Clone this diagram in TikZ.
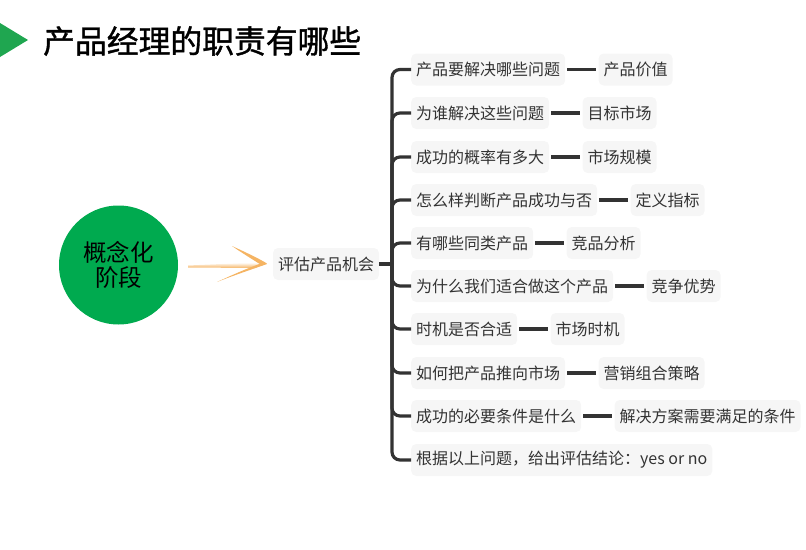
\documentclass[tikz,border=0pt]{standalone}
\usepackage{fontspec}
\newfontfamily\cjk{Noto Sans CJK SC}
\newfontfamily\cjktitle[FakeBold=1.2]{Noto Sans CJK SC}
\definecolor{cgreen}{HTML}{00AA4F}
\definecolor{tgreen}{HTML}{1FA650}
\definecolor{boxgray}{HTML}{F6F6F6}
\definecolor{ink}{HTML}{333333}
\definecolor{arrorange}{HTML}{F5B463}
\begin{document}
\begin{tikzpicture}[x=1pt,y=-1pt,
  tbox/.style={fill=boxgray,rounded corners=5pt,inner xsep=5pt,inner ysep=0pt,minimum height=32pt,text=ink,font=\cjk\fontsize{16}{18}\selectfont},
  lbox/.style={tbox,anchor=west},
  link/.style={draw=ink,line width=3.2pt},
  branch/.style={draw=ink,line width=3.2pt,rounded corners=8pt}]
\useasboundingbox (0,0) rectangle (806,549);
% title
\fill[tgreen] (0,23) -- (28,40) -- (0,57) -- cycle;
\node[anchor=west,inner sep=0pt,font=\cjktitle\fontsize{31.8}{34}\selectfont] (title) at (43,41) {产品经理的职责有哪些};
% circle
\node[circle,fill=cgreen,minimum size=119pt,inner sep=0pt,align=center,font=\cjk\fontsize{23.5}{25.5}\selectfont] (stage) at (118.5,265) {概念化\\阶段};
% arrow
\shade[left color=white,right color=arrorange,shading angle=0] (188,265.5) -- (255,262.5) -- (262,265) -- (255,268) -- (188,267.5) -- cycle;
\fill[arrorange] (232,246) .. controls (245,252) and (258,258) .. (267,263.5) -- (262,265.5) .. controls (252,259) and (242,253) .. (232,246) -- cycle;
\fill[arrorange] (217,282) .. controls (232,276) and (250,270) .. (267,264) -- (262,263) .. controls (248,268) and (232,275) .. (217,282) -- cycle;
% central node
\node[tbox] (eval) at (326,264) {评估产品机会};
\coordinate (spine) at (392,264);
\draw[link] (eval.east) -- (spine);
% children
\node[lbox] (q1) at (411,69.5) {产品要解决哪些问题};
\node[lbox] (q2) at (411,113) {为谁解决这些问题};
\node[lbox] (q3) at (411,157) {成功的概率有多大};
\node[lbox] (q4) at (411,200) {怎么样判断产品成功与否};
\node[lbox] (q5) at (411,243) {有哪些同类产品};
\node[lbox] (q6) at (411,286) {为什么我们适合做这个产品};
\node[lbox] (q7) at (411,329) {时机是否合适};
\node[lbox] (q8) at (411,373) {如何把产品推向市场};
\node[lbox] (q9) at (411,416) {成功的必要条件是什么};
\node[lbox] (q10) at (411,460) {根据以上问题，给出评估结论：yes or no};
\foreach \i in {1,...,10} {\draw[branch] (spine) |- (q\i.west);}
% answers
\node[lbox] (a1) at ([xshift=33pt]q1.east) {产品价值};
\node[lbox] (a2) at ([xshift=33pt]q2.east) {目标市场};
\node[lbox] (a3) at ([xshift=33pt]q3.east) {市场规模};
\node[lbox] (a4) at ([xshift=33pt]q4.east) {定义指标};
\node[lbox] (a5) at ([xshift=33pt]q5.east) {竞品分析};
\node[lbox] (a6) at ([xshift=33pt]q6.east) {竞争优势};
\node[lbox] (a7) at ([xshift=33pt]q7.east) {市场时机};
\node[lbox] (a8) at ([xshift=33pt]q8.east) {营销组合策略};
\node[lbox] (a9) at ([xshift=33pt]q9.east) {解决方案需要满足的条件};
\foreach \i in {1,...,9} {\draw[link] ([xshift=2pt]q\i.east) -- ([xshift=-2pt]a\i.west);}
\end{tikzpicture}
\end{document}
